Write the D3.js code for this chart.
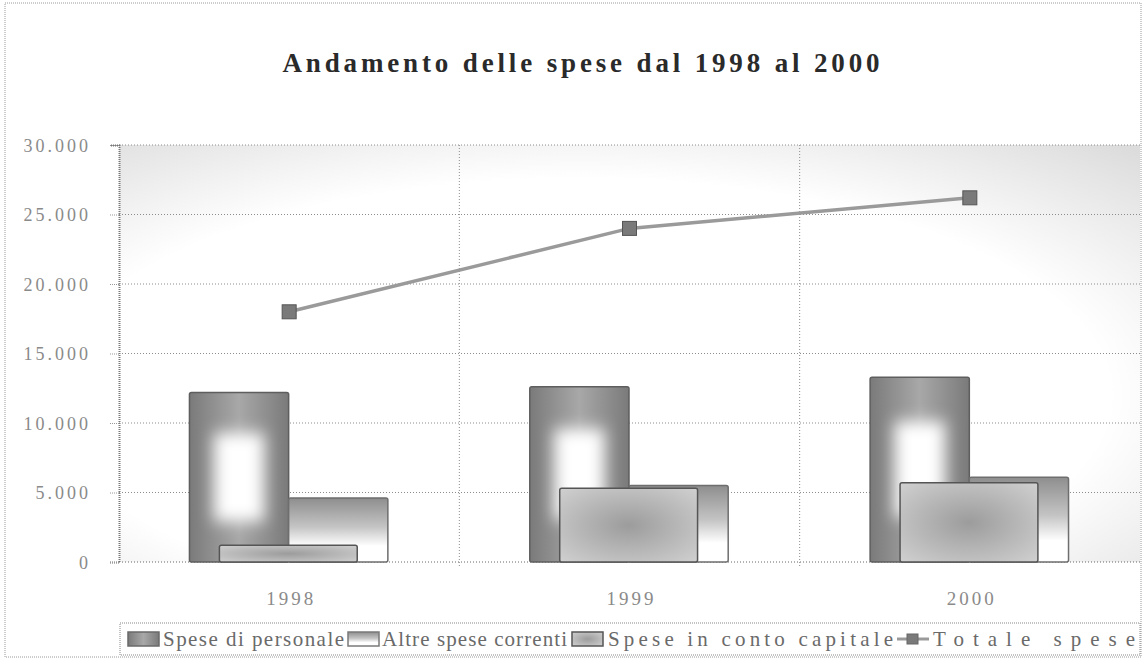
<!DOCTYPE html>
<meta charset="utf-8">
<head>
<title>Andamento delle spese</title>
<style>
  body { margin: 0; background: #fff; }
  svg { display: block; background: #fff; }
  text { font-family: "Liberation Serif", "DejaVu Serif", serif; }
  .title { font-size: 27px; font-weight: bold; fill: #2a2a2a; }
  .ytick text { font-size: 18px; fill: #8a8a8a; }
  .xlab { font-size: 19px; fill: #8a8a8a; }
  .leg { font-size: 21px; fill: #6a6a6a; }
  .grid { stroke: #8c8c8c; stroke-width: 1; stroke-dasharray: 1,2; }
</style>
</head>
<body>
<script src="https://cdn.jsdelivr.net/npm/d3@7"></script>
<script>

// data
var categories = ["1998", "1999", "2000"];
var personale = [12200, 12600, 13300];
var altre = [4600, 5500, 6100];
var capitale = [1200, 5300, 5700];
var totale = [18000, 24000, 26200];
var yTicks = [0, 5000, 10000, 15000, 20000, 25000, 30000];
var legendLabels = ["Spese di personale", "Altre spese correnti", "Spese in conto capitale", "Totale spese"];

var W = 1145, H = 663;
var plot = {left: 119, right: 1140, top: 145, bottom: 562};

var svg = d3.select("body").append("svg")
    .attr("width", W)
    .attr("height", H);

var defs = svg.append("defs");

// plot area background: white centre, grey edges
var bg = defs.append("radialGradient").attr("id", "bgGrad")
    .attr("cx", "0.45").attr("cy", "0.6").attr("r", "0.8");
bg.append("stop").attr("offset", "0.65").attr("stop-color", "#ffffff");
bg.append("stop").attr("offset", "1").attr("stop-color", "#dcdcdc");

var gP = defs.append("linearGradient").attr("id", "gradP")
    .attr("x1", 0).attr("y1", 0).attr("x2", 1).attr("y2", 0);
gP.append("stop").attr("offset", "0").attr("stop-color", "#7a7a7a");
gP.append("stop").attr("offset", "0.5").attr("stop-color", "#a8a8a8");
gP.append("stop").attr("offset", "1").attr("stop-color", "#7a7a7a");

defs.append("filter").attr("id", "soft")
    .attr("x", "-50%").attr("y", "-50%").attr("width", "200%").attr("height", "200%")
  .append("feGaussianBlur").attr("stdDeviation", 8);

var gA = defs.append("linearGradient").attr("id", "gradA")
    .attr("x1", 0).attr("y1", 0).attr("x2", 0).attr("y2", 1);
gA.append("stop").attr("offset", "0").attr("stop-color", "#8e8e8e");
gA.append("stop").attr("offset", "0.45").attr("stop-color", "#c4c4c4");
gA.append("stop").attr("offset", "0.75").attr("stop-color", "#ffffff");

var gC = defs.append("radialGradient").attr("id", "gradC")
    .attr("cx", "0.5").attr("cy", "0.5").attr("r", "0.7");
gC.append("stop").attr("offset", "0").attr("stop-color", "#9c9c9c");
gC.append("stop").attr("offset", "1").attr("stop-color", "#d0d0d0");

// outer frame
svg.append("rect")
    .attr("x", 5).attr("y", 3).attr("width", 1136).attr("height", 654)
    .attr("fill", "none").attr("stroke", "#9a9a9a").attr("stroke-dasharray", "1,1");

svg.append("text")
    .attr("class", "title")
    .attr("x", 581).attr("y", 72)
    .attr("text-anchor", "middle")
    .attr("textLength", 597).attr("lengthAdjust", "spacing")
    .text("Andamento delle spese dal 1998 al 2000");

// scales
var x = d3.scaleBand().domain(categories).range([plot.left, plot.right]).padding(0);
var y = d3.scaleLinear().domain([0, 30000]).range([plot.bottom, plot.top]);
var bw = x.bandwidth();
var rear = d3.scaleBand().domain(["personale", "altre"])
    .range([0.207 * bw, 0.79 * bw]).padding(0);

svg.append("rect")
    .attr("x", plot.left).attr("y", plot.top)
    .attr("width", plot.right - plot.left).attr("height", plot.bottom - plot.top)
    .attr("fill", "url(#bgGrad)");

// horizontal grid
svg.append("g").selectAll("line")
    .data(yTicks.slice(1))
    .enter().append("line")
    .attr("class", "grid")
    .attr("x1", plot.left).attr("x2", plot.right)
    .attr("y1", function(d) { return y(d); })
    .attr("y2", function(d) { return y(d); });

// vertical grid at category boundaries
svg.append("g").selectAll("line")
    .data(categories.slice(1))
    .enter().append("line")
    .attr("class", "grid")
    .attr("x1", function(d) { return x(d); })
    .attr("x2", function(d) { return x(d); })
    .attr("y1", plot.top).attr("y2", plot.bottom + 6);

// y axis
var yAxis = svg.append("g")
    .attr("class", "ytick")
    .attr("transform", "translate(" + plot.left + ",0)")
    .call(d3.axisLeft(y).tickValues(yTicks).tickSize(9).tickPadding(19)
        .tickFormat(function(d) { return d3.format(",")(d).replace(/,/g, "."); }));
yAxis.select(".domain").attr("stroke", "#777").attr("stroke-dasharray", "1,1").attr("stroke-width", 2);
yAxis.selectAll(".tick line").attr("stroke", "#999").attr("stroke-dasharray", "1,1");
yAxis.selectAll("text").attr("letter-spacing", "3px").attr("dy", "0.35em");

// bottom axis line
svg.append("line")
    .attr("class", "grid")
    .attr("x1", plot.left).attr("x2", plot.right)
    .attr("y1", plot.bottom).attr("y2", plot.bottom)
    .style("stroke", "#666");

// rear bars
var pg = svg.append("g");
pg.selectAll("rect.bar")
    .data(personale)
    .enter().append("rect")
    .attr("class", "bar")
    .attr("x", function(d, i) { return x(categories[i]) + rear("personale"); })
    .attr("width", rear.bandwidth())
    .attr("y", function(d) { return y(d); })
    .attr("height", function(d) { return y(0) - y(d); })
    .attr("rx", 2)
    .attr("fill", "url(#gradP)")
    .attr("stroke", "#5e5e5e").attr("stroke-width", 1.5);

// soft white glow in the middle of each personale bar
pg.selectAll("rect.glow")
    .data(personale)
    .enter().append("rect")
    .attr("class", "glow")
    .attr("x", function(d, i) { return x(categories[i]) + rear("personale") + rear.bandwidth() * 0.25; })
    .attr("width", rear.bandwidth() * 0.5)
    .attr("y", function(d) { return y(d) + (y(0) - y(d)) * 0.24; })
    .attr("height", function(d) { return (y(0) - y(d)) * 0.52; })
    .attr("fill", "#fff")
    .attr("filter", "url(#soft)");

svg.append("g").selectAll("rect")
    .data(altre)
    .enter().append("rect")
    .attr("x", function(d, i) { return x(categories[i]) + rear("altre"); })
    .attr("width", rear.bandwidth())
    .attr("y", function(d) { return y(d); })
    .attr("height", function(d) { return y(0) - y(d); })
    .attr("rx", 2)
    .attr("fill", "url(#gradA)")
    .attr("stroke", "#6e6e6e").attr("stroke-width", 1.5);

// front bars
svg.append("g").selectAll("rect")
    .data(capitale)
    .enter().append("rect")
    .attr("x", function(d, i) { return x(categories[i]) + 0.295 * bw; })
    .attr("width", 0.405 * bw)
    .attr("y", function(d) { return y(d); })
    .attr("height", function(d) { return y(0) - y(d); })
    .attr("rx", 2)
    .attr("fill", "url(#gradC)")
    .attr("stroke", "#555").attr("stroke-width", 1.5);

// total line
var line = d3.line()
    .x(function(d, i) { return x(categories[i]) + bw / 2; })
    .y(function(d) { return y(d); });

svg.append("path")
    .datum(totale)
    .attr("d", line)
    .attr("fill", "none")
    .attr("stroke", "#9a9a9a")
    .attr("stroke-width", 3.5);

svg.append("g").selectAll("rect")
    .data(totale)
    .enter().append("rect")
    .attr("x", function(d, i) { return x(categories[i]) + bw / 2 - 7; })
    .attr("y", function(d) { return y(d) - 7; })
    .attr("width", 14).attr("height", 14)
    .attr("fill", "#7a7a7a").attr("stroke", "#555");

// x labels
svg.append("g").selectAll("text")
    .data(categories)
    .enter().append("text")
    .attr("class", "xlab")
    .attr("x", function(d) { return x(d) + bw / 2 + 2; })
    .attr("y", 605)
    .attr("text-anchor", "middle")
    .attr("letter-spacing", "3px")
    .text(function(d) { return d; });

// legend
var leg = svg.append("g");
leg.append("rect")
    .attr("x", 120).attr("y", 623).attr("width", 1020).attr("height", 32)
    .attr("fill", "#fff").attr("stroke", "#888").attr("stroke-dasharray", "1,1");

var legItems = [
    {sx: 128, tx: 163, tw: 181, fill: "url(#gradP)", stroke: "#6a6a6a"},
    {sx: 348, tx: 382, tw: 185, fill: "url(#gradA)", stroke: "#7a7a7a"},
    {sx: 572, tx: 608, tw: 285, fill: "url(#gradC)", stroke: "#555"},
    {sx: 897, tx: 933, tw: 202, line: true}
];

legItems.forEach(function(it, i) {
    if (it.line) {
        leg.append("line")
            .attr("x1", it.sx).attr("x2", it.sx + 32)
            .attr("y1", 639).attr("y2", 639)
            .attr("stroke", "#9a9a9a").attr("stroke-width", 3);
        leg.append("rect")
            .attr("x", it.sx + 10).attr("y", 634).attr("width", 11).attr("height", 10)
            .attr("fill", "#7a7a7a").attr("stroke", "#666");
    } else {
        leg.append("rect")
            .attr("x", it.sx).attr("y", 632).attr("width", 31).attr("height", 14)
            .attr("fill", it.fill).attr("stroke", it.stroke).attr("stroke-width", 1.5);
    }
    leg.append("text")
        .attr("class", "leg")
        .attr("x", it.tx).attr("y", 646)
        .attr("textLength", it.tw).attr("lengthAdjust", "spacing")
        .text(legendLabels[i]);
});

</script>
</body>
